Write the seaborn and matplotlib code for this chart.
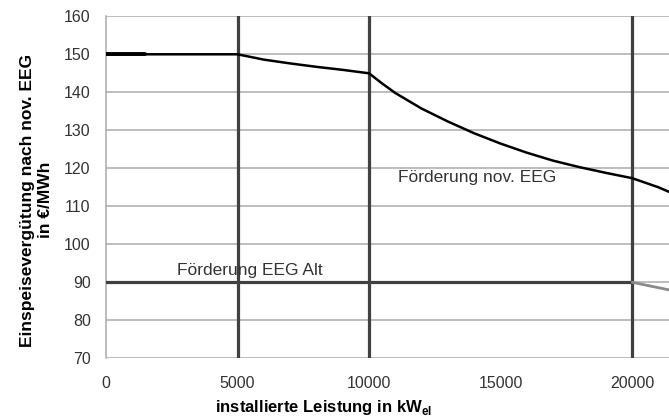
import matplotlib
matplotlib.use("Agg")
import matplotlib.pyplot as plt
import pandas as pd
import seaborn as sns

# ── Daten ──────────────────────────────────────────────────────────────────
leistung_neu = [0, 1500, 5000, 5500, 6000, 7000, 8000, 9000, 10000,
                10500, 11000, 12000, 13000, 14000, 15000, 16000, 17000,
                18000, 19000, 20000, 21000, 21400]
verguetung_neu = [150, 150, 150, 149.3, 148.6, 147.6, 146.7, 145.9, 145,
                  142.3, 139.8, 135.7, 132.3, 129.2, 126.5, 124.1, 122.0,
                  120.3, 118.8, 117.4, 115.0, 113.8]

leistung_alt = [0, 20000]
verguetung_alt = [90, 90]

leistung_alt_rest = [20000, 21400]
verguetung_alt_rest = [90, 88]

grenzen = [5000, 10000, 20000]
y_ticks = [70, 80, 90, 100, 110, 120, 130, 140, 150, 160]
x_ticks = [0, 5000, 10000, 15000, 20000]

df_neu = pd.DataFrame({"x": leistung_neu, "y": verguetung_neu})
df_alt = pd.DataFrame({"x": leistung_alt, "y": verguetung_alt})
df_rest = pd.DataFrame({"x": leistung_alt_rest, "y": verguetung_alt_rest})

sns.set_style("white")
plt.rcParams["font.family"] = ["Liberation Sans", "DejaVu Sans"]
plt.rcParams["mathtext.fontset"] = "custom"
plt.rcParams["mathtext.bf"] = "Liberation Sans:bold"
plt.rcParams["mathtext.rm"] = "Liberation Sans"

fig = plt.figure(figsize=(6.69, 4.19), dpi=100)
ax = fig.add_axes([0.1584, 0.1449, 0.8416, 0.8162])

grau = "#404040"
for g in grenzen:
    ax.axvline(g, color=grau, lw=2.3, zorder=3)

sns.lineplot(data=df_alt, x="x", y="y", color=grau, lw=2.3, ax=ax, zorder=3)
sns.lineplot(data=df_rest, x="x", y="y", color="#8a8a8a", lw=2.0, ax=ax, zorder=3)
sns.lineplot(data=df_neu, x="x", y="y", color="black", lw=1.8, ax=ax, zorder=4)
# der Anfang der Kurve ist im Original etwas dicker
sns.lineplot(data=df_neu.iloc[:2], x="x", y="y", color="black", lw=2.8, ax=ax, zorder=4)

ax.set_xlim(0, 21400)
ax.set_ylim(70, 160)
ax.set_xticks(x_ticks)
ax.set_yticks(y_ticks)
ax.yaxis.grid(True, color="#ababab", lw=1.1)
ax.set_axisbelow(True)

for s in ["top", "right", "bottom"]:
    ax.spines[s].set_visible(False)
ax.spines["left"].set_color("#ababab")
ax.spines["left"].set_linewidth(1.1)

ax.tick_params(axis="both", colors="#ababab", labelcolor="#333333",
               labelsize=11.5, length=6, width=1.1, direction="out", pad=5)
ax.tick_params(axis="x", pad=7)

ax.set_xlabel("installierte Leistung in kW$_\\mathbf{el}$", fontsize=12,
              fontweight="bold", color="black", labelpad=5, x=0.387)
ax.set_ylabel("Einspeisevergütung nach nov. EEG\nin €/MWh", fontsize=12.5,
              fontweight="bold", color="black", labelpad=8, linespacing=1.25,
              y=0.463)

ax.text(11100, 117.7, "Förderung nov. EEG", fontsize=12.5, color="#333333",
        va="center", ha="left")
ax.text(2690, 93.1, "Förderung EEG Alt", fontsize=12.5, color="#333333",
        va="center", ha="left", zorder=5)

fig.savefig("out.png", dpi=100)
